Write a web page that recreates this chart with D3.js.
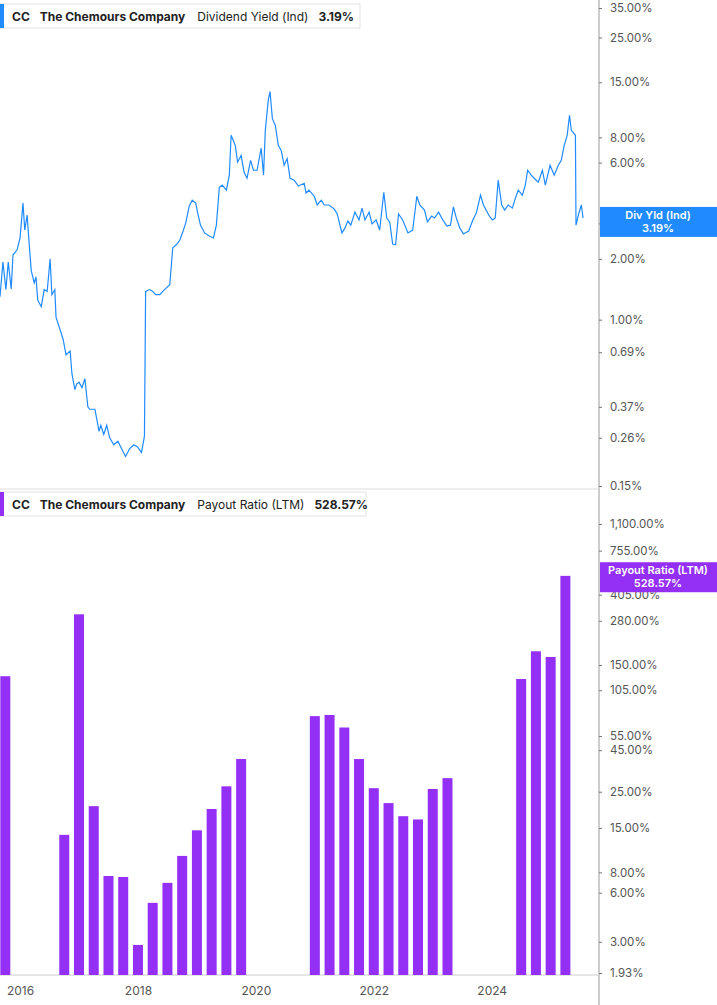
<!DOCTYPE html>
<html><head><meta charset="utf-8">
<script src="https://cdn.jsdelivr.net/npm/d3@7"></script>
<style>body{margin:0;background:#fff;font-family:Inter,"Noto Sans",sans-serif;}</style>
</head><body><svg id="c" width="717" height="1005"></svg>
<script>
const yieldDates=[2015.66,2015.71,2015.76,2015.80,2015.85,2015.88,2015.95,2016.00,2016.05,2016.08,2016.12,2016.15,2016.19,2016.24,2016.27,2016.30,2016.36,2016.41,2016.46,2016.51,2016.54,2016.59,2016.61,2016.68,2016.73,2016.78,2016.85,2016.88,2016.93,2016.96,2017.00,2017.05,2017.10,2017.15,2017.18,2017.27,2017.34,2017.37,2017.42,2017.47,2017.52,2017.59,2017.66,2017.72,2017.79,2017.86,2017.93,2017.99,2018.06,2018.11,2018.13,2018.20,2018.25,2018.30,2018.37,2018.45,2018.54,2018.59,2018.65,2018.71,2018.76,2018.81,2018.87,2018.92,2018.98,2019.01,2019.06,2019.13,2019.21,2019.28,2019.33,2019.38,2019.43,2019.50,2019.55,2019.58,2019.65,2019.69,2019.75,2019.80,2019.85,2019.91,2019.96,2020.02,2020.09,2020.13,2020.16,2020.21,2020.24,2020.28,2020.33,2020.38,2020.43,2020.48,2020.53,2020.58,2020.65,2020.72,2020.82,2020.85,2020.90,2020.99,2021.04,2021.11,2021.16,2021.24,2021.33,2021.38,2021.43,2021.46,2021.51,2021.56,2021.61,2021.68,2021.75,2021.80,2021.85,2021.92,2021.97,2022.04,2022.10,2022.17,2022.22,2022.27,2022.32,2022.37,2022.42,2022.49,2022.58,2022.66,2022.73,2022.78,2022.86,2022.91,2022.98,2023.03,2023.10,2023.17,2023.24,2023.30,2023.35,2023.40,2023.46,2023.52,2023.61,2023.68,2023.74,2023.81,2023.86,2023.95,2024.01,2024.06,2024.11,2024.17,2024.22,2024.28,2024.35,2024.40,2024.45,2024.52,2024.57,2024.61,2024.67,2024.72,2024.79,2024.86,2024.91,2024.99,2025.06,2025.13,2025.18,2025.23,2025.28,2025.32,2025.35,2025.38,2025.42,2025.43,2025.47,2025.52,2025.55];
const yieldValues=[1.30,1.93,1.41,1.93,1.42,2.09,2.22,2.54,3.78,2.78,3.30,2.48,1.75,1.52,1.63,1.25,1.16,1.41,1.38,2.00,1.33,1.41,1.03,0.89,0.80,0.67,0.70,0.54,0.45,0.48,0.49,0.46,0.51,0.37,0.36,0.36,0.28,0.30,0.27,0.30,0.26,0.24,0.25,0.23,0.21,0.23,0.24,0.235,0.22,0.265,1.38,1.41,1.38,1.33,1.33,1.41,1.49,2.27,2.35,2.48,2.72,3.01,3.66,3.91,3.78,3.41,2.94,2.69,2.60,2.54,2.94,4.53,4.64,4.38,5.20,8.19,7.31,6.03,6.52,5.37,5.02,6.16,5.50,5.50,7.07,5.20,8.67,12.2,13.5,9.9,9.17,7.31,6.90,5.82,6.28,5.02,4.91,4.59,4.74,4.24,4.38,4.09,3.70,3.91,3.70,3.70,3.53,3.34,2.91,2.69,2.84,3.08,2.94,3.41,3.12,3.57,3.12,3.41,2.98,3.12,2.78,4.28,3.19,3.05,2.37,2.35,3.34,3.12,2.69,2.78,4.09,3.70,3.49,3.05,3.26,3.19,3.41,3.12,2.91,2.94,3.62,3.19,2.84,2.66,2.75,3.12,3.38,4.14,3.70,3.30,3.12,3.19,4.91,3.70,3.49,3.70,3.57,3.99,4.38,4.14,4.64,5.50,5.20,5.02,4.80,5.50,4.64,5.82,5.20,5.82,6.16,7.31,8.19,10.3,8.67,8.47,8.19,2.94,3.30,3.70,3.19];
const payoutDates=[2015.75,2016.75,2017.0,2017.25,2017.5,2017.75,2018.0,2018.25,2018.5,2018.75,2019.0,2019.25,2019.5,2019.75,2021.0,2021.25,2021.5,2021.75,2022.0,2022.25,2022.5,2022.75,2023.0,2023.25,2024.5,2024.75,2025.0,2025.25];
const payoutValues=[128,13.6,307,20.4,7.6,7.5,2.87,5.2,6.9,10.1,14.5,19.6,27,39.7,72.8,74,62,39.7,26.3,21.3,17.7,16.9,26,30.3,123,182,168,528.57];
const yieldTicks=[35,25,15,8,6,3,2,1,0.69,0.37,0.26,0.15];
const payoutTicks=[1100,755,405,280,150,105,55,45,25,15,8,6,3,1.93];
const yearTicks=[2016,2018,2020,2022,2024];

const svg=d3.select("#c");
const blue="#1f8bff", purple="#9430f5", grey="#555";
const x=d3.scaleLinear().domain([2015.66,2025.82]).range([0,599]);
const yT=d3.scaleLog().domain([0.15,35]).range([486,8]);
const yB=d3.scaleLog().domain([1.93,1100]).range([973,524]);
const fmt=v=>d3.format(",.2f")(v)+"%";

// axis lines
svg.append("line").attr("x1",599).attr("x2",599).attr("y1",0).attr("y2",1005).attr("stroke","#999");
svg.append("line").attr("x1",0).attr("x2",599).attr("y1",489).attr("y2",489).attr("stroke","#ddd");
svg.append("line").attr("x1",0).attr("x2",599).attr("y1",975).attr("y2",975).attr("stroke","#ccc");

function rightAxis(scale,ticks){
  const g=svg.append("g").attr("transform","translate(599,0)")
    .call(d3.axisRight(scale).tickValues(ticks).tickFormat(fmt).tickSize(3).tickPadding(8));
  g.select(".domain").remove();
  g.selectAll("line").attr("stroke","#777");
  g.selectAll("text").attr("fill",grey).style("font-size","11.5px").style("font-family","Inter,sans-serif");
}
rightAxis(yT,yieldTicks);
rightAxis(yB,payoutTicks);

// x axis
const gx=svg.append("g").attr("transform","translate(0,975)")
 .call(d3.axisBottom(x).tickValues(yearTicks).tickFormat(d3.format("d")).tickSize(0).tickPadding(11));
gx.select(".domain").remove();
gx.selectAll("text").attr("fill",grey).style("font-size","12px").style("font-family","Inter,sans-serif");

// line
const pts=yieldDates.map((d,i)=>[d,yieldValues[i]]);
svg.append("path").datum(pts).attr("fill","none").attr("stroke",blue).attr("stroke-width",1.2)
 .attr("d",d3.line().x(d=>x(d[0])).y(d=>yT(d[1])));

// bars
const bw=10;
svg.selectAll("rect.bar").data(payoutDates.map((d,i)=>[d,payoutValues[i]])).enter().append("rect")
 .attr("x",d=>Math.max(0,x(d[0])-bw/2)).attr("width",d=>x(d[0])-bw/2<0?x(d[0])+bw/2:bw)
 .attr("y",d=>yB(d[1])).attr("height",d=>975-yB(d[1])).attr("fill",purple);

// legends
function legend(y0,color,label,val,w){
  const g=svg.append("g");
  g.append("rect").attr("x",0).attr("y",y0).attr("width",w).attr("height",24).attr("fill","#fff").attr("stroke","#e3e3e3");
  g.append("rect").attr("x",0).attr("y",y0).attr("width",4).attr("height",24).attr("fill",color);
  const t=g.append("text").attr("x",12).attr("y",y0+16.5).style("font-size","12px").attr("fill","#222").style("font-family","Inter,sans-serif");
  t.append("tspan").text("CC").style("font-weight","700");
  t.append("tspan").attr("dx",10).text("The Chemours Company").style("font-weight","700");
  t.append("tspan").attr("dx",12).text(label);
  t.append("tspan").attr("dx",10).text(val).style("font-weight","700");
}
legend(4,blue,"Dividend Yield (Ind)","3.19%",360);
legend(492,purple,"Payout Ratio (LTM)","528.57%",366);

function tag(v,scale,color,l1,l2){
  const cy=scale(v);
  const g=svg.append("g");
  g.append("rect").attr("x",600).attr("y",cy-15).attr("width",117).attr("height",30).attr("fill",color);
  g.append("text").attr("x",658).attr("y",cy-3).attr("text-anchor","middle").attr("fill","#fff").style("font-size","11px").style("font-weight","600").text(l1);
  g.append("text").attr("x",658).attr("y",cy+10).attr("text-anchor","middle").attr("fill","#fff").style("font-size","11px").style("font-weight","600").text(l2);
}
tag(3.05,yT,blue,"Div Yld (Ind)","3.19%");
tag(405*1.28,yB,purple,"Payout Ratio (LTM)","528.57%");
</script></body></html>
